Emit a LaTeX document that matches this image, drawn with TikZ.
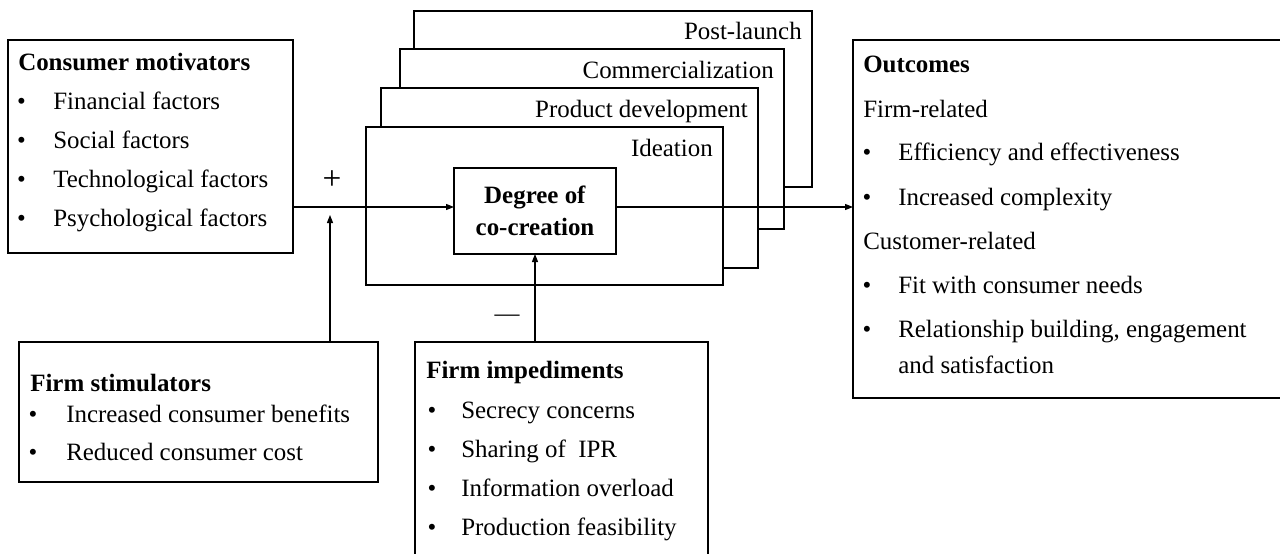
\documentclass[tikz,border=0pt]{standalone}
\usepackage{fontspec}
\setmainfont{Liberation Serif}
\usetikzlibrary{arrows.meta}
\newcommand{\dfont}{\fontsize{18.7}{22}\selectfont}
\newcommand{\pfont}{\fontsize{25}{28}\selectfont}
\begin{document}
\begin{tikzpicture}[x=0.75pt,y=-0.75pt,
  box/.style={draw, line width=0.9pt, fill=white, inner sep=0pt, outer sep=0pt, anchor=north west},
  txt/.style={anchor=base west, inner sep=0pt, font=\dfont},
  rtxt/.style={anchor=base east, inner sep=0pt, font=\dfont},
  ctxt/.style={anchor=base, inner sep=0pt, font=\dfont},
  bul/.style={anchor=base, inner sep=0pt, font=\dfont},
  sym/.style={inner sep=0pt, font=\dfont},
  conn/.style={line width=0.9pt},
  arr/.style={line width=0.9pt, -{Triangle[length=6pt,width=4.5pt]}}
]
\useasboundingbox (0,0) rectangle (1280,553);
\clip (0,0) rectangle (1280,553);

% stacked stage boxes
\node[box, minimum width=298.5pt, minimum height=132pt] (post) at (414,11) {};
\node[box, minimum width=288pt, minimum height=135pt] (comm) at (400,49) {};
\node[box, minimum width=282.75pt, minimum height=135pt] (prod) at (381,88) {};
\node[box, minimum width=267.75pt, minimum height=118.5pt] (idea) at (366,127) {};
\node[rtxt] (postl) at (802,39) {Post-launch};
\node[rtxt] (comml) at (774,78) {Commercialization};
\node[rtxt] (prodl) at (748,117) {Product development};
\node[rtxt] (ideal) at (713,156) {Ideation};

% degree of co-creation
\node[box, minimum width=121.5pt, minimum height=64.5pt] (deg) at (454,168) {};
\node[ctxt] (deg1) at (535,203) {\textbf{Degree of}};
\node[ctxt] (deg2) at (535,235) {\textbf{co-creation}};

% consumer motivators
\node[box, minimum width=213.75pt, minimum height=159.75pt] (cm) at (8,40) {};
\node[txt] (cmh) at (18,70) {\textbf{Consumer motivators}};
\foreach \t [count=\i from 0] in {Financial factors, Social factors, Technological factors, Psychological factors} {
  \node[bul] (cmb\i) at (21.5,{109.3+39.2*\i}) {•};
  \node[txt] (cmt\i) at (53,{109.3+39.2*\i}) {\t};
}

% firm stimulators
\node[box, minimum width=269.25pt, minimum height=105pt] (fs) at (19,342) {};
\node[txt] (fsh) at (30,391) {\textbf{Firm stimulators}};
\foreach \t [count=\i from 0] in {Increased consumer benefits, Reduced consumer cost} {
  \node[bul] (fsb\i) at (33,{422+38*\i}) {•};
  \node[txt] (fst\i) at (66,{422+38*\i}) {\t};
}

% firm impediments
\node[box, minimum width=219.75pt, minimum height=171pt] (fi) at (415,342) {};
\node[txt] (fih) at (426,378) {\textbf{Firm impediments}};
\foreach \t [count=\i from 0] in {Secrecy concerns, Sharing of\ \ IPR, Information overload, Production feasibility} {
  \node[bul] (fib\i) at (432,{418+39*\i}) {•};
  \node[txt] (fit\i) at (461,{418+39*\i}) {\t};
}

% outcomes
\node[box, minimum width=327.75pt, minimum height=268.5pt] (oc) at (853,40) {};
\node[txt] (och) at (863,72) {\textbf{Outcomes}};
\node[txt] (oc1) at (863,117) {Firm-related};
\node[bul] (ocb1) at (867,160) {•};
\node[txt] (oc2) at (898,160) {Efficiency and effectiveness};
\node[bul] (ocb2) at (867,205) {•};
\node[txt] (oc3) at (898,205) {Increased complexity};
\node[txt] (oc4) at (863,249) {Customer-related};
\node[bul] (ocb3) at (867,293) {•};
\node[txt] (oc5) at (898,293) {Fit with consumer needs};
\node[bul] (ocb4) at (867,337) {•};
\node[txt] (oc6) at (898,337) {Relationship building, engagement};
\node[txt] (oc7) at (898,373) {and satisfaction};

% signs
\node[sym, font=\pfont] (plus) at (332,180) {+};
\node[sym] (minus) at (507,318) {—};

% connectors
\coordinate (j) at (330,207);
\draw[arr] ([yshift=3pt]deg.west -| cm.east) -- ([yshift=3pt]deg.west);
\draw[arr] (fs.north -| j) -- ([yshift=-6pt]j);
\draw[arr] (fi.north -| deg.south) -- (deg.south);
\draw[arr] ([yshift=3pt]deg.east) -- ([yshift=3pt]deg.east -| oc.west);
\end{tikzpicture}
\end{document}
